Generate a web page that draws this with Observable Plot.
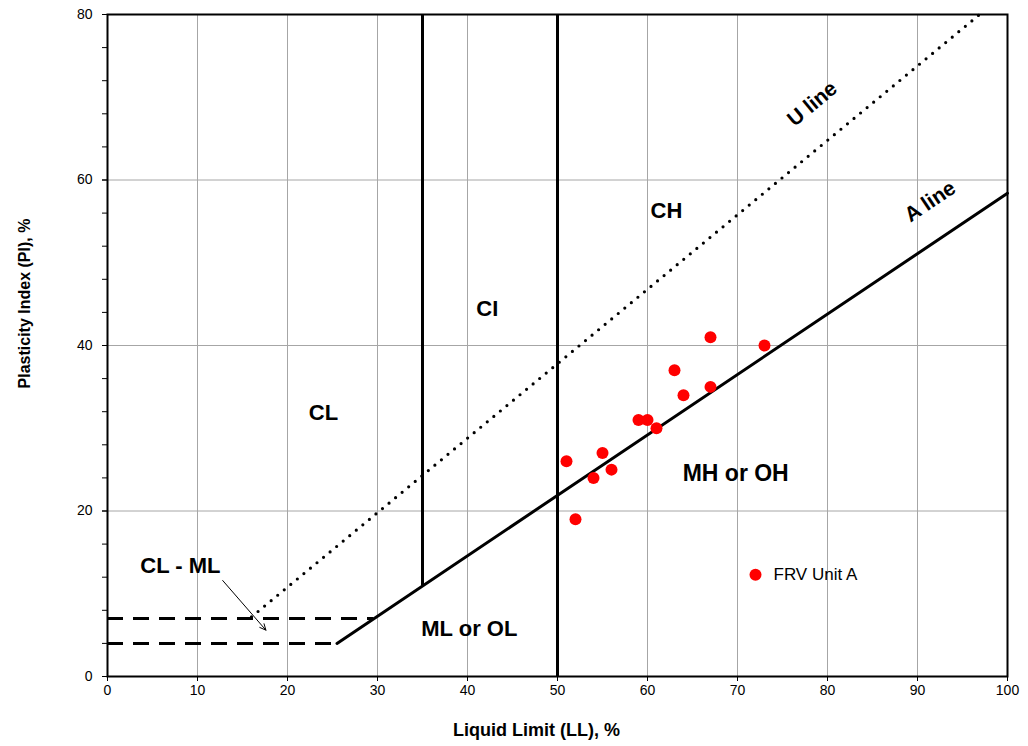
<!DOCTYPE html>
<html>
<head>
<meta charset="utf-8">
<script src="https://cdn.jsdelivr.net/npm/d3@7"></script>
<script src="https://cdn.jsdelivr.net/npm/@observablehq/plot@0.6"></script>
<style>
  html, body { margin: 0; padding: 0; background: #fff; }
  #chart { width: 1028px; height: 746px; }
</style>
</head>
<body>
<div id="chart"></div>
<script>
// ---- data ----
const llTicks = [0, 10, 20, 30, 40, 50, 60, 70, 80, 90, 100];
const piTicks = [0, 20, 40, 60, 80];
const piMinorTicks = [0, 4, 8, 12, 16, 20, 24, 28, 32, 36, 40, 44, 48, 52, 56, 60, 64, 68, 72, 76, 80];
const gridLL = [10, 20, 30, 40, 60, 70, 80, 90];
const gridPI = [20, 40, 60];

// FRV Unit A samples
const sampleLL = [51, 52, 54, 55, 56, 59, 60, 61, 63, 64, 67, 67, 73];
const samplePI = [26, 19, 24, 27, 25, 31, 31, 30, 37, 34, 41, 35, 40];

// A line: PI = 0.73 (LL - 20), U line: PI = 0.9 (LL - 8)
const aLineLL = [25.5, 100];
const aLinePI = [4, 58.4];
const uLineLL = [16, 96.9];
const uLinePI = [7.2, 80];

// boundaries at LL = 35 and LL = 50
const wallLL = [35, 50];
const wallPIfrom = [10.95, 0];
const wallPIto = [80, 80];

// CL-ML band (dashed)
const bandPI = [7, 4];
const bandLLto = [29.6, 25.5];

// zone labels
const zoneText = ["CL", "CI", "CH", "MH or OH", "ML or OL", "CL - ML"];
const zoneLL = [24, 42.2, 62.1, 69.8, 40.2, 8.1];
const zonePI = [31.9, 44.4, 56.2, 24.5, 5.8, 13.4];
const zoneSize = [22, 22, 22, 23, 22, 22];

const lineText = ["U line", "A line"];
const lineLL = [78.3, 91.4];
const linePI = [69.2, 57.4];
const lineRotate = [-39.6, -33.9];

// arrow for CL - ML
const arrowLL = [12.8, 17.6];
const arrowPI = [11.6, 5.6];

// legend
const legendLabel = "FRV Unit A";
const legendLL = [72];
const legendPI = [12.3];

// axis titles
const xTitle = "Liquid Limit (LL), %";
const yTitle = "Plasticity Index (PI), %";

const samples = sampleLL.map((ll, i) => ({ll, pi: samplePI[i]}));
const walls = wallLL.map((ll, i) => ({ll, y1: wallPIfrom[i], y2: wallPIto[i]}));
const bands = bandPI.map((pi, i) => ({pi, x2: bandLLto[i]}));
const zones = zoneText.map((t, i) => ({t, ll: zoneLL[i], pi: zonePI[i], s: zoneSize[i]}));
const lineLabels = lineText.map((t, i) => ({t, ll: lineLL[i], pi: linePI[i], r: lineRotate[i]}));

const font = "'Liberation Sans', Arial, sans-serif";

const chart = Plot.plot({
  width: 1028,
  height: 746,
  marginLeft: 107,
  marginRight: 21,
  marginTop: 14,
  marginBottom: 70,
  style: {fontFamily: font, fontSize: "14px", color: "#000", background: "#fff"},
  x: {domain: [0, 100]},
  y: {domain: [0, 80]},
  marks: [
    Plot.ruleX(gridLL, {stroke: "#a6a6a6", strokeWidth: 1}),
    Plot.ruleY(gridPI, {stroke: "#a6a6a6", strokeWidth: 1}),
    // CL-ML dashed band
    Plot.ruleY(bands, {y: "pi", x1: 0, x2: "x2", stroke: "#000", strokeWidth: 3, strokeDasharray: "16,10"}),
    // U line (dotted)
    Plot.line(uLineLL.map((ll, i) => ({ll, pi: uLinePI[i]})), {x: "ll", y: "pi", stroke: "#000", strokeWidth: 3.2, strokeDasharray: "0,8.5", strokeLinecap: "round"}),
    // A line
    Plot.line(aLineLL.map((ll, i) => ({ll, pi: aLinePI[i]})), {x: "ll", y: "pi", stroke: "#000", strokeWidth: 3}),
    // boundaries
    Plot.ruleX(walls, {x: "ll", y1: "y1", y2: "y2", stroke: "#000", strokeWidth: 3}),
    // arrow
    Plot.arrow([0], {x1: arrowLL[0], y1: arrowPI[0], x2: arrowLL[1], y2: arrowPI[1], stroke: "#000", strokeWidth: 1, headLength: 10, headAngle: 50}),
    // labels
    Plot.text(zones, {x: "ll", y: "pi", text: "t", fontSize: d => d.s, fontWeight: "bold", fill: "#000"}),
    Plot.text(lineLabels, {x: "ll", y: "pi", text: "t", rotate: "r", fontSize: 21, fontWeight: "bold", fill: "#000"}),
    // samples
    Plot.dot(samples, {x: "ll", y: "pi", r: 6, fill: "#ff0000", stroke: "none"}),
    // legend
    Plot.dot(legendLL, {x: d => d, y: (d, i) => legendPI[i], r: 6, fill: "#ff0000"}),
    Plot.text(legendLL, {x: d => d, y: (d, i) => legendPI[i], text: () => legendLabel, textAnchor: "start", dx: 18, fontSize: 17, fill: "#000"}),
    // axes
    Plot.axisX({ticks: llTicks, tickSize: 5, tickPadding: 4, label: null, fontSize: 14, tickFormat: d => d}),
    Plot.axisY({ticks: piMinorTicks, tickSize: 5, tickFormat: () => "", label: null}),
    Plot.axisY({ticks: piTicks, tickSize: 5, tickPadding: 10, label: null, fontSize: 14, tickFormat: d => d}),
    Plot.frame({stroke: "#000", strokeWidth: 2}),
    // axis titles
    Plot.text([xTitle], {frameAnchor: "bottom", text: d => d, textAnchor: "middle", dx: -21, dy: 59, fontSize: 18, fontWeight: "bold", fill: "#000"}),
    Plot.text([yTitle], {frameAnchor: "left", text: d => d, textAnchor: "middle", rotate: -90, dx: -83, dy: -42, fontSize: 16, fontWeight: "bold", fill: "#000"})
  ]
});
document.getElementById("chart").appendChild(chart);
</script>
</body>
</html>
